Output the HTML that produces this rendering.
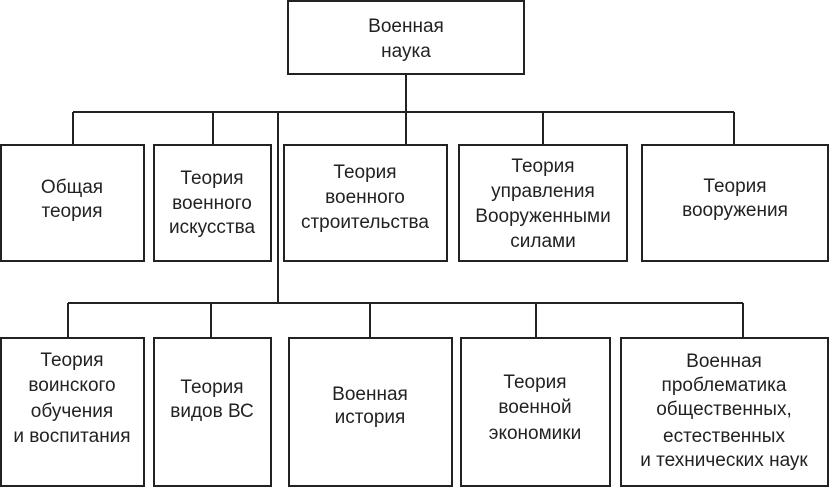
<!DOCTYPE html>
<html><head><meta charset="utf-8"><style>
html,body{margin:0;padding:0;background:#fff;}
svg{display:block;}
text{font-family:"Liberation Sans",sans-serif;font-size:19px;fill:#222;text-anchor:middle;}
</style></head><body>
<svg width="830" height="487" viewBox="0 0 830 487">
<g fill="none" stroke="#222" stroke-width="2">
<rect x="288" y="1" width="236" height="73"/>
<line x1="406" y1="74" x2="406" y2="112"/>
<line x1="73" y1="112" x2="734" y2="112"/>
<line x1="73" y1="112" x2="73" y2="145"/>
<line x1="213" y1="112" x2="213" y2="145"/>
<line x1="406" y1="112" x2="406" y2="145"/>
<line x1="543" y1="112" x2="543" y2="145"/>
<line x1="734" y1="112" x2="734" y2="145"/>
<line x1="278" y1="112" x2="278" y2="303"/>
<rect x="1" y="145" width="143" height="116"/>
<rect x="154" y="145" width="117" height="116"/>
<rect x="284" y="145" width="163" height="116"/>
<rect x="459" y="145" width="168" height="116"/>
<rect x="642" y="145" width="186" height="116"/>
<line x1="68" y1="303" x2="743" y2="303"/>
<line x1="68" y1="303" x2="68" y2="338"/>
<line x1="211" y1="303" x2="211" y2="338"/>
<line x1="370" y1="303" x2="370" y2="338"/>
<line x1="536" y1="303" x2="536" y2="338"/>
<line x1="743" y1="303" x2="743" y2="338"/>
<rect x="1" y="338" width="143" height="148"/>
<rect x="154" y="338" width="117" height="148"/>
<rect x="289" y="338" width="163" height="148"/>
<rect x="461" y="338" width="149" height="148"/>
<rect x="621" y="338" width="207" height="148"/>
</g>
<text x="406" y="32">Военная</text><text x="406" y="57">наука</text>
<text x="72" y="193">Общая</text><text x="72" y="217">теория</text>
<text x="212" y="184">Теория</text><text x="212" y="209">военного</text><text x="212" y="233">искусства</text>
<text x="365" y="178">Теория</text><text x="365" y="203">военного</text><text x="365" y="228">строительства</text>
<text x="543" y="172">Теория</text><text x="543" y="197">управления</text><text x="543" y="222">Вооруженными</text><text x="543" y="247">силами</text>
<text x="735" y="192">Теория</text><text x="735" y="216">вооружения</text>
<text x="72" y="366">Теория</text><text x="72" y="391">воинского</text><text x="72" y="417">обучения</text><text x="72" y="442">и воспитания</text>
<text x="212" y="393">Теория</text><text x="212" y="417">видов ВС</text>
<text x="370" y="400">Военная</text><text x="370" y="423">история</text>
<text x="535" y="388">Теория</text><text x="535" y="413">военной</text><text x="535" y="439">экономики</text>
<text x="724" y="367">Военная</text><text x="724" y="391">проблематика</text><text x="724" y="415">общественных,</text><text x="724" y="442">естественных</text><text x="724" y="466">и технических наук</text>
</svg>
</body></html>
